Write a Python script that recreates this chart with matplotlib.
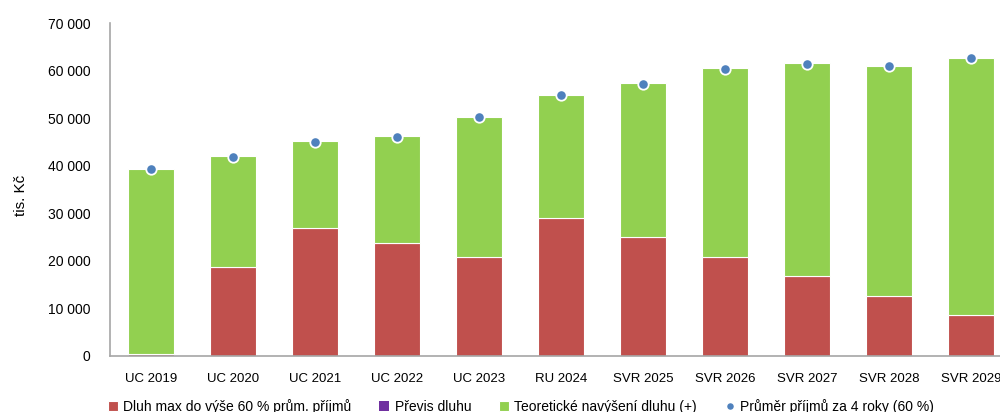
import matplotlib.pyplot as plt
import numpy as np

plt.rcParams['font.family'] = ['Liberation Sans', 'DejaVu Sans']

# -----------------------
# DATA (tis. Kč)
# -----------------------
roky = ['UC 2019', 'UC 2020', 'UC 2021', 'UC 2022', 'UC 2023', 'RU 2024',
        'SVR 2025', 'SVR 2026', 'SVR 2027', 'SVR 2028', 'SVR 2029']
dluh_max = [400, 18800, 26950, 23850, 20840, 29050, 24990, 20840, 16780, 12630, 8570]
previs = [0, 0, 0, 0, 0, 0, 0, 0, 0, 0, 0]
celkem = [39400, 42040, 45260, 46250, 50320, 55010, 57470, 60570, 61620, 61050, 62800]
prumer_prijmu = [39300, 41900, 45150, 46200, 50250, 54900, 57350, 60450, 61500, 61100, 62750]

navyseni = [c - d - p for c, d, p in zip(celkem, dluh_max, previs)]

# -----------------------
# FIGURA
# -----------------------
fig = plt.figure(figsize=(10, 4.12), dpi=100)
ax = fig.add_axes([0.11, 0.136, 0.902, 0.807])

x = np.arange(len(roky))
w = 0.57
red = '#C0504D'
purple = '#7030A0'
green = '#92D050'
blue = '#4F81BD'

h1 = ax.bar(x, dluh_max, w, color=red, edgecolor='white', linewidth=0.8,
            label='Dluh max do výše 60 % prům. příjmů')
h2 = ax.bar(x, previs, w, bottom=dluh_max, color=purple, edgecolor='white',
            linewidth=0.0, label='Převis dluhu')
bottom2 = [d + p for d, p in zip(dluh_max, previs)]
h3 = ax.bar(x, navyseni, w, bottom=bottom2, color=green, edgecolor='white',
            linewidth=0.8, label='Teoretické navýšení dluhu (+)')
h4, = ax.plot(x, prumer_prijmu, linestyle='none', marker='o', markersize=7.5,
              color=blue, markeredgecolor='white', markeredgewidth=1.3,
              label='Průměr příjmů za 4 roky (60 %)')

ax.set_xlim(-0.5, len(roky) - 0.5)
ax.set_ylim(0, 70000)
ax.set_yticks(np.arange(0, 70001, 10000))
ax.set_yticklabels([f'{v:,}'.replace(',', ' ') for v in range(0, 70001, 10000)],
                   fontsize=10)
ax.set_xticks(x)
ax.set_xticklabels(roky, fontsize=9.5)
ax.tick_params(axis='both', length=0)
ax.tick_params(axis='y', pad=14)
ax.tick_params(axis='x', pad=12)

for s in ['top', 'right']:
    ax.spines[s].set_visible(False)
for s in ['left', 'bottom']:
    ax.spines[s].set_color('#A6A6A6')
    ax.spines[s].set_linewidth(1.2)

fig.text(0.021, 0.525, 'tis. Kč', rotation=90, fontsize=11, ha='center', va='center')

fig.legend([h1, h2, h3, h4],
           [h.get_label() for h in [h1, h2, h3, h4]],
           loc='lower center', bbox_to_anchor=(0.521, -0.035), ncol=4,
           frameon=False, fontsize=10, handlelength=0.7, handleheight=0.7,
           handletextpad=0.4, columnspacing=2.0, markerscale=0.8)

fig.savefig('out.png', dpi=100)
